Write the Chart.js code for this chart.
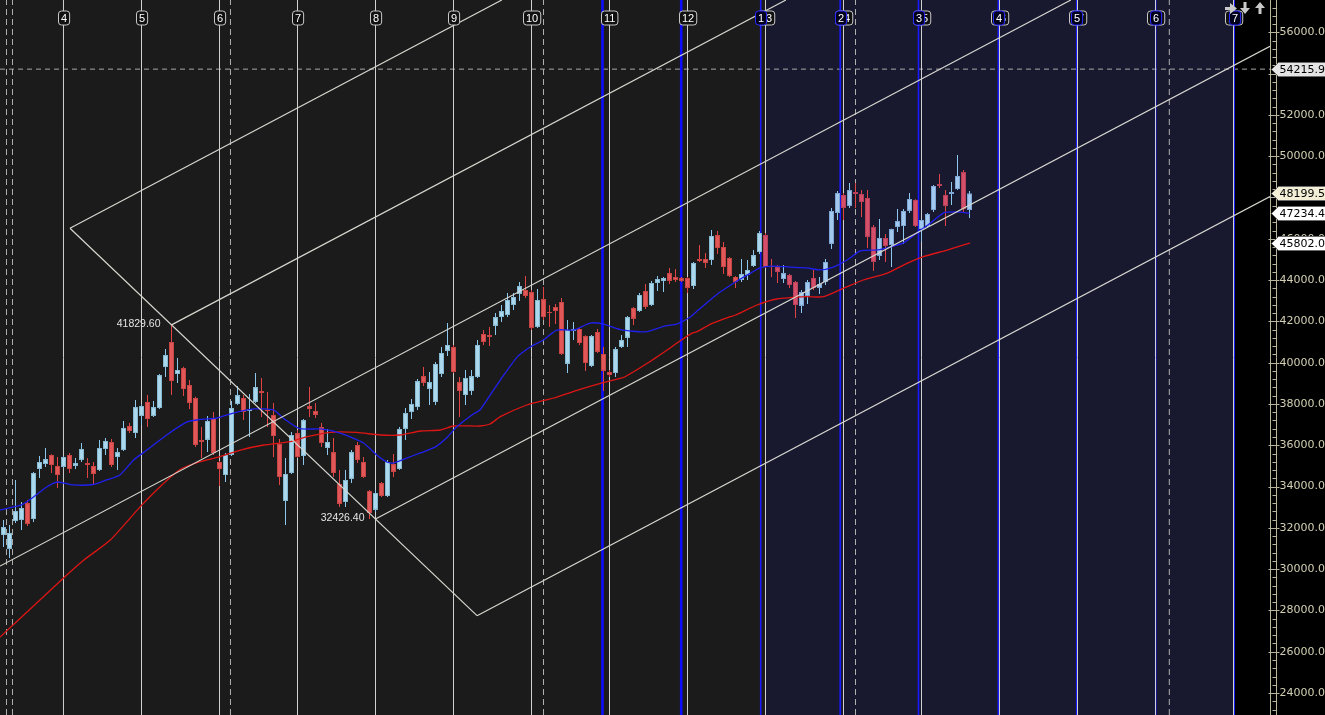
<!DOCTYPE html>
<html>
<head>
<meta charset="utf-8">
<script src="https://cdn.jsdelivr.net/npm/chart.js@4.4.0/dist/chart.umd.min.js"></script>
<style>
html, body { margin: 0; padding: 0; background: #000; overflow: hidden; }
#wrap { width: 1325px; height: 715px; position: relative; }
</style>
</head>
<body>
<div id="wrap"><canvas id="chart"></canvas></div>
<script>
// daily candles (index = bar number)
const opens = [31650,30980,32330,32380,33200,32430,34850,35090,35530,35000,34950,35530,35000,35290,35140,35000,34800,35820,36160,35430,
  35770,36930,36590,37420,38100,37420,37800,39790,41000,39450,39740,38920,38290,36260,36260,37320,35190,34560,35530,38000,
  38290,37660,38100,38630,37710,37470,36060,33300,34660,36590,35480,37900,37660,36880,35870,35670,34120,33250,34370,36010,
  35190,33790,32870,34170,33540,35090,34850,36790,37610,37850,39350,38730,38100,39450,40570,40760,39060,38430,38630,39310,
  41390,41340,41780,42210,42310,42790,43330,43520,43420,41730,43080,42450,42700,42940,39940,41530,41630,41290,39840,41490,
  40420,39550,39500,40760,41200,42650,42500,43470,42790,43860,43960,44340,44150,44100,44100,43710,45020,45020,44970,46180,
  45600,45070,44150,44000,44250,44680,45360,46180,44680,44630,44050,44250,43910,42750,43220,44100,43620,43910,45750,47250,
  48120,47590,48270,48170,47980,46570,45170,46040,45700,46570,46620,47350,47880,46470,46620,47390,48650,48120,48170,48410,
  49230,47390];
const highs = [32380,32140,34320,33250,33350,34710,35480,35870,35560,35430,35480,35630,35380,36110,35380,35190,36250,36350,36300,35870,
  37180,37080,38190,38000,38430,38140,39450,40660,41830,40230,39800,39160,38350,36880,37420,37610,35250,35630,38140,38870,
  38430,38480,39500,39260,38580,38050,36300,35380,36640,36740,37270,38820,38050,37080,36790,36350,34800,34800,35770,36160,
  35430,33830,33830,34220,35290,35580,36880,37800,38240,39210,39790,39550,40030,40760,41920,40860,39310,39650,39650,41100,
  41580,41730,42410,42790,43370,43370,43910,44200,43520,43570,43660,42790,42840,43130,42070,41970,41730,41330,41340,41630,
  40760,39650,40760,41340,42260,42700,43370,43810,43960,44200,44150,44590,44540,44150,44150,44880,45700,45310,46430,46380,
  45840,45120,44200,45020,44970,45460,46380,46280,45020,44730,44730,44290,43950,43520,44000,44490,44150,45020,47490,48310,
  48220,48700,48700,48360,48360,46670,46960,46230,46480,47440,47440,48220,47920,46950,47250,48600,49140,48360,48750,50060,
  49330,48310];
const lows = [31070,30540,32240,31900,32090,32280,34410,34950,34660,33930,34900,34660,34850,35190,34410,34120,34750,35530,34950,34800,
  35720,36590,36350,36980,36880,37370,37760,39310,38430,39020,38390,37760,35920,35380,35670,35530,34030,34220,35480,37950,
  37220,36400,38050,37370,36880,35430,34080,32140,34610,35380,35040,37370,37320,35920,35530,34460,33010,33010,34170,35140,
  34410,32430,32770,33490,33490,34460,34800,36260,37270,37710,38870,37950,37950,39310,40320,39500,37370,37950,38430,39260,
  40860,40810,41340,41970,42210,42550,42990,43130,41580,41680,42070,41730,41870,40370,39500,41100,40860,39600,39790,40470,
  38630,39310,39310,40710,40760,41820,42450,42600,42750,43470,43420,43810,43910,43910,43370,43570,44880,44590,44730,45260,
  44290,44150,43620,43910,44000,44630,45260,44590,44150,43860,43860,43620,42160,42410,42840,43520,43330,43760,45510,46910,
  46910,47490,47490,47060,45550,44440,44970,44880,44630,46330,45750,47250,46570,45840,46570,47300,48460,46620,47640,48360,
  47300,47010];
const closes = [32040,31750,32820,32960,32190,34660,35190,35330,35040,34560,35430,34850,35140,35820,35040,34610,35870,36210,35040,35670,
  36840,36690,37850,37900,37270,37850,39400,40370,39110,39650,38720,38050,36010,36160,37180,35630,34850,35530,37800,38430,
  37610,37760,38820,38530,37660,36450,34460,34610,36500,35430,37220,37760,37470,36110,36160,34660,33160,34320,35670,35290,
  34460,32720,33690,33540,35190,34710,36790,37560,38000,39110,39020,39060,39940,40470,40860,39550,38630,39260,39350,40860,
  41000,41240,42210,42500,43040,43180,43710,43230,41680,43040,42210,42410,42500,40420,41580,41630,40950,39980,41290,40520,
  39600,39400,40660,41100,42210,42120,43280,42700,43860,44050,44100,43960,44000,43960,43620,44830,44920,44830,46140,45550,
  44630,44200,43910,44290,44490,45210,46280,44630,44630,44390,44340,43760,42790,43420,43910,43620,43810,44880,47350,48220,
  47490,48360,48170,47780,46090,44880,46040,45650,46470,46860,47350,47930,46620,46910,47200,48560,48560,47590,48270,49040,
  47440,48200];

// moving averages as [bar, price]
const blueMa = [[-0.58,32870],[3,33110],[5,33490],[7.2,33980],[9,34220],[11.6,34080],[15,34100],[17.2,34320],[19.4,34560],[21.7,35290],
  [23.9,35770],[27.2,36500],[30.6,37130],[32.8,37250],[35.6,37320],[38.3,37560],[41.7,37760],[45,37710],[46.7,37300],[49.4,36800],
  [52.8,36790],[56.1,36590],[60,36110],[62.2,35530],[63.9,35190],[65,35140],[67.2,35380],[69.5,35630],[72,35920],[74,36400],
  [75.5,36880],[78.3,37510],[79.4,37710],[81.1,38430],[82.8,39160],[85.6,40270],[87.8,40760],[90,41100],[92.2,41580],[95,41580],
  [97.8,41920],[100,41870],[102.8,41600],[107,41490],[110.3,41780],[112.2,41870],[114.2,42160],[115.8,42550],[119.2,43370],[122,43910],
  [124,44250],[126.1,44590],[128.3,44680],[131.1,44630],[133.9,44590],[136.1,44490],[138.3,44630],[140.6,44970],[142.8,45410],[145.6,45460],
  [147.8,45600],[150,45800],[152.2,46280],[154.5,46760],[156.7,47250],[158.9,47300],[161,47234]];
const redMa = [[-0.58,26714],[5,28215],[10,29571],[13.4,30443],[17.8,31412],[22.8,33027],[26.1,33994],[29.5,34836],[32.8,35204],[36.1,35446],
  [39.5,35770],[43.4,36013],[47.8,36173],[50.6,36415],[54.5,36628],[58.9,36620],[62.8,36497],[66.1,36497],[69.5,36691],[72.8,36739],
  [75,36933],[79.4,36933],[81.1,37030],[82.8,37384],[87.2,37950],[90.3,38192],[91.7,38289],[95.7,38676],[99.5,39000],[102.8,39242],
  [103.6,39320],[107.3,39969],[111.4,40773],[112.2,40938],[114.7,41421],[115.6,41500],[118.1,41906],[121.1,42226],[122,42308],[125.6,42793],
  [128.9,43083],[133.9,43195],[136.7,43195],[140.6,43680],[143.3,44004],[147.2,44328],[150.6,44812],[153.3,45132],[157.3,45456],[161.1,45802]];

// drawn channel / pitchfork lines, [bar, price] end points
const trendLines = [
  [[11.08,46509],[83.05,57564]],
  [[11.08,46509],[78.92,27747]],
  [[78.92,27747],[211.08,48047]],
  [[28,41829.6],[130.4,57564]],
  [[62,32426.4],[211.08,55325]],
  [[-0.58,30150],[177.9,57564]]
];
const pivotBars = [28, 62];
const pivotPrices = [41829.60, 32426.40];

// cycle markers (bar positions) and their labels
const cycleBars = [10,23,36,49,62,75,88,101,114,127,140,153,166,179,192,205];
const cycleLabels = ['4','5','6','7','8','9','10','11','12','13','14','15','16','17','18','19'];
const blueBars = [126.2,139.45,152.5,165.8,178.87,192.03,205.12];
const blueLabels = ['1','2','3','4','5','6','7'];
const blueHeavyBars = [99.83,112.95];
const dashedBars = [0.5,1.5,37.83,90,142,194.3];

// right axis
const yTicks = [24000,26000,28000,30000,32000,34000,36000,38000,40000,42000,44000,46000,48000,50000,52000,54000,56000];
const tagValues = [54215.97, 48199.50, 47234.40, 45802.07];

const yMin = 22937, yMax = 57564;
const xMin = -0.5833, xMax = 211.083;
const navyFrom = 127, navyTo = 205.12;

const bars = opens.map((_, i) => i);
const isBull = i => closes[i] >= opens[i];
const bodyFill = bars.map(i => isBull(i) ? (i >= navyFrom ? '#a2c8ee' : '#abd8ec') : (i >= navyFrom ? '#d4506a' : '#e25757'));
const bodyEdge = bars.map(i => isBull(i) ? (i >= navyFrom ? '#7ea6d6' : '#86b9d2') : (i >= navyFrom ? '#b8405a' : '#c84545'));
const wickFill = bars.map(i => isBull(i) ? '#8cc8ee' : '#e04444');

function verticals(list) {
  const pts = [];
  list.forEach(v => { pts.push({x: v, y: yMin}, {x: v, y: yMax}, {x: v, y: null}); });
  return pts;
}
function segments(list) {
  const pts = [];
  list.forEach(s => { pts.push({x: s[0][0], y: s[0][1]}, {x: s[1][0], y: s[1][1]}, {x: s[1][0], y: null}); });
  return pts;
}

function box(ctx, cx, text, fill, stroke) {
  ctx.font = '11px "Liberation Sans"';
  const w = ctx.measureText(text).width + 5, h = 14, top = 11, r = 3;
  const l = Math.round(cx - w / 2) + 0.5;
  ctx.beginPath();
  ctx.moveTo(l + r, top);
  ctx.lineTo(l + w - r, top); ctx.quadraticCurveTo(l + w, top, l + w, top + r);
  ctx.lineTo(l + w, top + h - r); ctx.quadraticCurveTo(l + w, top + h, l + w - r, top + h);
  ctx.lineTo(l + r, top + h); ctx.quadraticCurveTo(l, top + h, l, top + h - r);
  ctx.lineTo(l, top + r); ctx.quadraticCurveTo(l, top, l + r, top);
  ctx.closePath();
  ctx.fillStyle = fill; ctx.fill();
  ctx.strokeStyle = stroke; ctx.lineWidth = 1; ctx.stroke();
  ctx.fillStyle = '#ffffff';
  ctx.textAlign = 'center'; ctx.textBaseline = 'middle';
  ctx.fillText(text, l + w / 2, top + h / 2 + 0.5);
}

const overlay = {
  id: 'overlay',
  beforeDatasetsDraw(chart) {
    const { ctx, chartArea: a, scales: { x } } = chart;
    const xa = x.getPixelForValue(navyFrom), xb = x.getPixelForValue(navyTo);
    ctx.save();
    ctx.fillStyle = '#1b1b1b'; ctx.fillRect(a.left, a.top, xa - a.left, a.height);
    ctx.fillStyle = '#18182f'; ctx.fillRect(xa, a.top, xb - xa, a.height);
    ctx.fillStyle = '#000000'; ctx.fillRect(xb, a.top, a.right - xb, a.height);
    ctx.restore();
  },
  afterDatasetsDraw(chart) {
    const { ctx, chartArea: a, scales: { x, y } } = chart;
    ctx.save();

    // pivot prices
    ctx.font = '10.5px "Liberation Sans"';
    ctx.fillStyle = '#e4e4e4';
    ctx.textAlign = 'right'; ctx.textBaseline = 'middle';
    pivotBars.forEach((b, k) => {
      ctx.fillText(pivotPrices[k].toFixed(2), x.getPixelForValue(b) - 11, y.getPixelForValue(pivotPrices[k]) - 1);
    });

    // cycle number boxes
    cycleBars.forEach((b, k) => box(ctx, x.getPixelForValue(b), cycleLabels[k], '#111111', '#c8c8c8'));
    blueBars.forEach((b, k) => box(ctx, x.getPixelForValue(b), blueLabels[k], '#00001c', '#2a2aff'));

    // right price axis
    const ax = Math.round(a.right) + 0.5;
    ctx.strokeStyle = '#b9b59c'; ctx.lineWidth = 1;
    ctx.beginPath();
    ctx.moveTo(ax, 0); ctx.lineTo(ax, chart.height);
    ctx.moveTo(ax + 6, 0); ctx.lineTo(ax + 6, chart.height);
    for (let v = Math.ceil(yMin / 400) * 400; v <= yMax; v += 400) {
      const yy = Math.round(y.getPixelForValue(v)) + 0.5;
      if (v % 2000 === 0) { ctx.moveTo(ax - 2, yy); ctx.lineTo(ax + 9, yy); }
      else { ctx.moveTo(ax + 2, yy); ctx.lineTo(ax + 6, yy); }
    }
    ctx.stroke();
    ctx.font = '11px "DejaVu Sans"';
    ctx.textAlign = 'left'; ctx.textBaseline = 'middle';
    ctx.fillStyle = '#d2cfb2';
    yTicks.forEach(v => ctx.fillText(v.toFixed(2), ax + 9, y.getPixelForValue(v)));

    // last-value tags
    const tagFill = ['#e4e4e4', '#f2efd6', '#ffffff', '#ffffff'];
    tagValues.forEach((v, k) => {
      const yy = Math.round(y.getPixelForValue(v)) + 0.5;
      ctx.beginPath();
      ctx.moveTo(ax + 1, yy);
      ctx.lineTo(ax + 8, yy - 7);
      ctx.lineTo(chart.width + 2, yy - 7);
      ctx.lineTo(chart.width + 2, yy + 7);
      ctx.lineTo(ax + 8, yy + 7);
      ctx.closePath();
      ctx.fillStyle = tagFill[k]; ctx.fill();
      ctx.strokeStyle = '#6a6a6a'; ctx.stroke();
      ctx.fillStyle = '#000000';
      ctx.fillText(v.toFixed(2), ax + 9, yy + 0.5);
    });

    // navigation arrows, top right
    ctx.fillStyle = '#c9c9c9';
    ctx.beginPath();
    ctx.rect(1225, 7, 6, 3);
    ctx.moveTo(1230, 3); ctx.lineTo(1237, 8.5); ctx.lineTo(1230, 14); ctx.closePath();
    ctx.rect(1243.5, 2, 3, 6);
    ctx.moveTo(1240, 8); ctx.lineTo(1250, 8); ctx.lineTo(1245, 14); ctx.closePath();
    ctx.moveTo(1255, 8); ctx.lineTo(1260, 2); ctx.lineTo(1265, 8); ctx.closePath();
    ctx.rect(1258.5, 8, 3, 6);
    ctx.fill();

    ctx.restore();
  }
};

new Chart(document.getElementById('chart'), {
  type: 'bar',
  data: {
    datasets: [
      { type: 'line', label: 'channel', data: segments(trendLines), borderColor: '#d6d6cf', borderWidth: 1.2,
        pointRadius: 0, spanGaps: false, order: 1 },
      { type: 'line', label: 'ma fast', data: blueMa.map(p => ({x: p[0], y: p[1]})), borderColor: '#2020ee', borderWidth: 1.3,
        pointRadius: 0, tension: 0.2, order: 2 },
      { type: 'line', label: 'ma slow', data: redMa.map(p => ({x: p[0], y: p[1]})), borderColor: '#dd1515', borderWidth: 1.3,
        pointRadius: 0, tension: 0.2, order: 2 },
      { type: 'bar', label: 'body', data: bars.map(i => ({x: i, y: [opens[i], closes[i]]})),
        backgroundColor: bodyFill, borderColor: bodyEdge, borderWidth: 1, borderSkipped: false,
        barThickness: 5, grouped: false, minBarLength: 1, inflateAmount: 0, order: 3 },
      { type: 'bar', label: 'wick', data: bars.map(i => ({x: i, y: [lows[i], highs[i]]})),
        backgroundColor: wickFill, borderWidth: 0, barThickness: 1, grouped: false, inflateAmount: 0, order: 4 },
      { type: 'line', label: 'cycles', data: verticals(cycleBars), borderColor: '#d0d0d0', borderWidth: 1,
        pointRadius: 0, order: 5 },
      { type: 'line', label: 'blue cycles', data: verticals(blueBars), borderColor: '#1a1aff', borderWidth: 1.6,
        pointRadius: 0, order: 6 },
      { type: 'line', label: 'blue heavy', data: verticals(blueHeavyBars), borderColor: '#0c0cff', borderWidth: 2.6,
        pointRadius: 0, order: 6 },
      { type: 'line', label: 'dashed', data: verticals(dashedBars), borderColor: '#b0b0b0', borderWidth: 1,
        borderDash: [6, 4], pointRadius: 0, order: 7 },
      { type: 'line', label: 'level', data: [{x: xMin, y: tagValues[0]}, {x: xMax, y: tagValues[0]}],
        borderColor: '#a8a8a8', borderWidth: 1, borderDash: [5, 4], pointRadius: 0, order: 7 }
    ]
  },
  options: {
    responsive: true,
    maintainAspectRatio: false,
    animation: false,
    devicePixelRatio: 1,
    layout: { padding: { left: 0, right: 55, top: 0, bottom: 0 } },
    plugins: { legend: { display: false }, tooltip: { enabled: false } },
    scales: {
      x: { type: 'linear', min: xMin, max: xMax, offset: false, display: false },
      y: { type: 'linear', min: yMin, max: yMax, display: false }
    }
  },
  plugins: [overlay]
});
</script>
</body>
</html>
